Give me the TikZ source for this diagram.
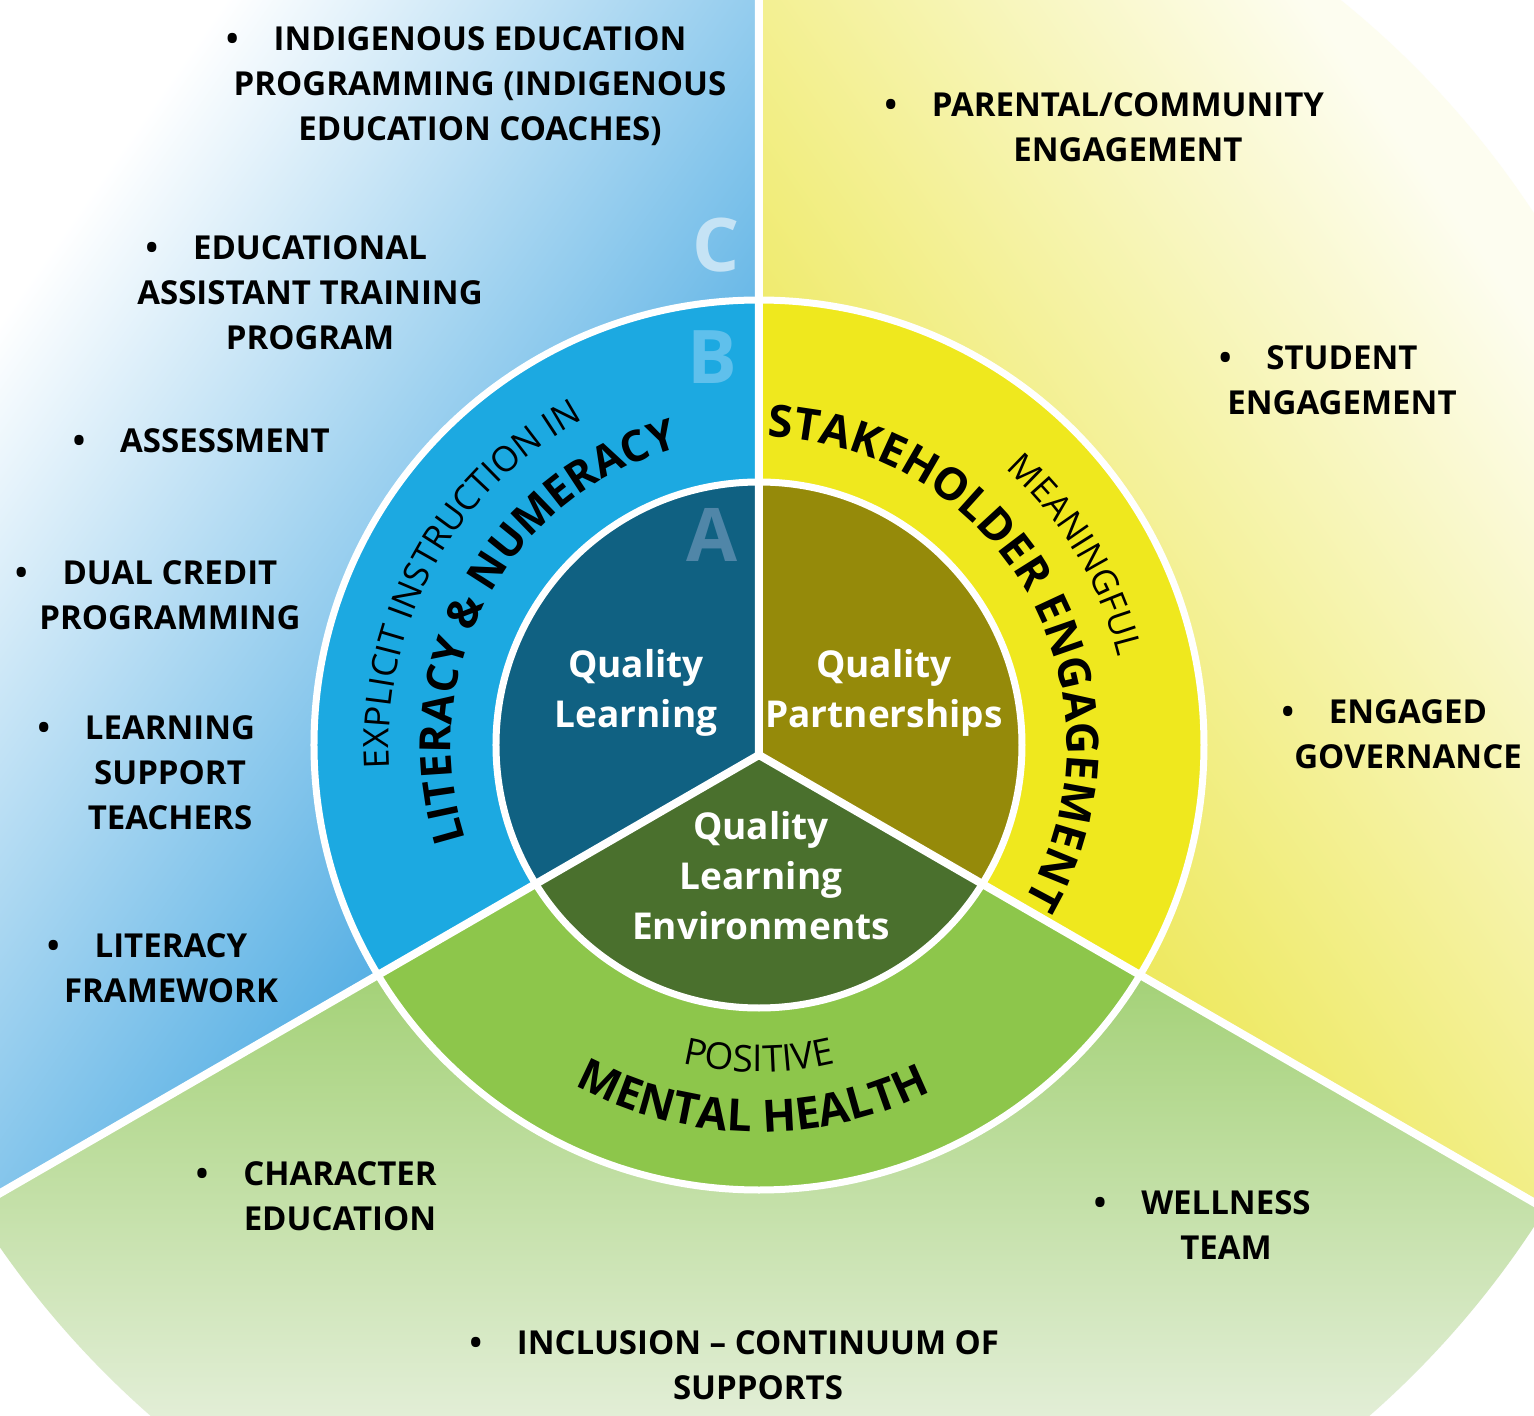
\documentclass[tikz,border=0pt]{standalone}
\usepackage{fontspec}
\setmainfont{Open Sans}
\usetikzlibrary{decorations.text}

\definecolor{inblue}{RGB}{16,97,130}
\definecolor{inolive}{RGB}{149,138,10}
\definecolor{ingreen}{RGB}{74,112,45}
\definecolor{ringblue}{RGB}{28,169,225}
\definecolor{ringyellow}{RGB}{239,232,30}
\definecolor{ringgreen}{RGB}{141,198,75}
\definecolor{farblue}{RGB}{24,146,218}
\definecolor{paleblue}{RGB}{255,255,255}
\definecolor{faryellow}{RGB}{232,225,40}
\definecolor{paleyellow}{RGB}{253,253,240}
\definecolor{fargreen}{RGB}{133,195,72}
\definecolor{palegreen}{RGB}{226,238,214}
\definecolor{letterA}{RGB}{80,134,168}
\definecolor{letterB}{RGB}{95,192,236}
\definecolor{letterC}{RGB}{197,227,245}

\tikzset{
	bullettext/.style={align=center, font=\bfseries\fontsize{33}{45}\selectfont},
	quality/.style={align=center, text=white, font=\bfseries\fontsize{37}{50}\selectfont},
	tier/.style={font=\bfseries\fontsize{74}{74}\selectfont},
	divider/.style={white, line width=8pt},
	rim/.style={white, line width=7pt},
	arctext/.style={decorate, decoration={text along path, text align=center, text={#1}}},
}
\newcommand{\bul}{\llap{\textbullet\hspace{35pt}}}
\newcommand{\arclight}{\fontsize{35}{35}\selectfont}
\newcommand{\arcbold}{\fontsize{43}{43}\selectfont\bfseries}
\newcommand{\arcbolder}{\fontsize{44.5}{44.5}\selectfont\bfseries}

\begin{document}
\begin{tikzpicture}[x=1pt, y=1pt]
	\useasboundingbox (-759,-671) rectangle (775,745);
	\clip (-759,-671) rectangle (775,745);
	\fill[white] (-759,-671) rectangle (775,745);
	\coordinate (O) at (0,0);
	\coordinate (J) at (0,-10);
	
	\begin{scope}
		\clip (1,25) circle (925);
		\shade[top color=paleblue, bottom color=farblue, shading angle=55] (J) -- (0,745) -- (-759,745) -- (-759,-448) -- cycle;
		\shade[top color=paleyellow, bottom color=faryellow, shading angle=-55] (J) -- (0,745) -- (775,745) -- (775,-457) -- cycle;
		\shade[top color=fargreen, bottom color=palegreen] (J) -- (-759,-448) -- (-759,-671) -- (775,-671) -- (775,-457) -- cycle;
		\draw[divider] (J) -- ++(90:1000) (J) -- ++(210:1200) (J) -- ++(330:1200);
	\end{scope}
	
	\begin{scope}
		\clip (O) circle (445);
		\fill[ringblue] (J) -- ++(90:900) arc[start angle=90, end angle=210, radius=900] -- cycle;
		\fill[ringyellow] (J) -- ++(90:900) arc[start angle=90, end angle=-30, radius=900] -- cycle;
		\fill[ringgreen] (J) -- ++(210:900) arc[start angle=210, end angle=330, radius=900] -- cycle;
	\end{scope}
	\draw[rim] (O) circle (445);
	
	\begin{scope}
		\clip (O) circle (263);
		\fill[inblue] (J) -- ++(90:900) arc[start angle=90, end angle=210, radius=900] -- cycle;
		\fill[inolive] (J) -- ++(90:900) arc[start angle=90, end angle=-30, radius=900] -- cycle;
		\fill[ingreen] (J) -- ++(210:900) arc[start angle=210, end angle=330, radius=900] -- cycle;
	\end{scope}
	\draw[rim] (O) circle (263);
	
	\begin{scope}
		\clip (O) circle (445);
		\draw[divider] (J) -- ++(90:500) (J) -- ++(210:500) (J) -- ++(330:500);
	\end{scope}
	
	\node[tier, text=letterA] (A) at (-47,210) {A};
	\node[tier, text=letterB] (B) at (-47,388) {B};
	\node[tier, text=letterC] (C) at (-43,500) {C};
	
	\node[quality] (learning) at (-123,52) {Quality\\Learning};
	\node[quality] (partners) at (125,52) {Quality\\Partnerships};
	\node[quality] (environ) at (2,-131) {Quality\\Learning\\Environments};
	
	\path[arctext={|\arclight|EXPLICIT INSTRUCTION IN}] (210:370) arc[start angle=210, end angle=92, radius=370];
	\path[arctext={|\arcbold|LITERACY {\&} NUMERACY}] (210:308) arc[start angle=210, end angle=93, radius=308];
	\path[arctext={|\arcbolder|STAKEHOLDER ENGAGEMENT}] (100:308) arc[start angle=100, end angle=-42, radius=308];
	\path[arctext={|\arclight|MEANINGFUL}] (70:370) arc[start angle=70, end angle=-8, radius=370];
	\path[arctext={|\fontsize{37}{37}\selectfont|POSITIVE}] (235:327) arc[start angle=235, end angle=305, radius=327];
	\path[arctext={|\arcbolder|MENTAL HEALTH}] (219:387) arc[start angle=219, end angle=319, radius=387];
	
	\node[bullettext] (indigenous) at (-279,659) {\bul INDIGENOUS EDUCATION\\PROGRAMMING (INDIGENOUS\\EDUCATION COACHES)};
	\node[bullettext] (assistant) at (-449,452) {\bul EDUCATIONAL\\ASSISTANT TRAINING\\PROGRAM};
	\node[bullettext] (assess) at (-534,304) {\bul ASSESSMENT};
	\node[bullettext] (dual) at (-589,150) {\bul DUAL CREDIT\\PROGRAMMING};
	\node[bullettext] (support) at (-589,-28) {\bul LEARNING\\SUPPORT\\TEACHERS};
	\node[bullettext] (literacy) at (-588,-223) {\bul LITERACY\\FRAMEWORK};
	\node[bullettext] (parental) at (369,618) {\bul PARENTAL/COMMUNITY\\ENGAGEMENT};
	\node[bullettext] (student) at (583,365) {\bul STUDENT\\ENGAGEMENT};
	\node[bullettext] (governance) at (649,11) {\bul ENGAGED\\GOVERNANCE};
	\node[bullettext] (character) at (-419,-451) {\bul CHARACTER\\EDUCATION};
	\node[bullettext] (wellness) at (467,-480) {\bul WELLNESS\\TEAM};
	\node[bullettext] (inclusion) at (-1,-620) {\bul INCLUSION -- CONTINUUM OF\\SUPPORTS};
\end{tikzpicture}
\end{document}
